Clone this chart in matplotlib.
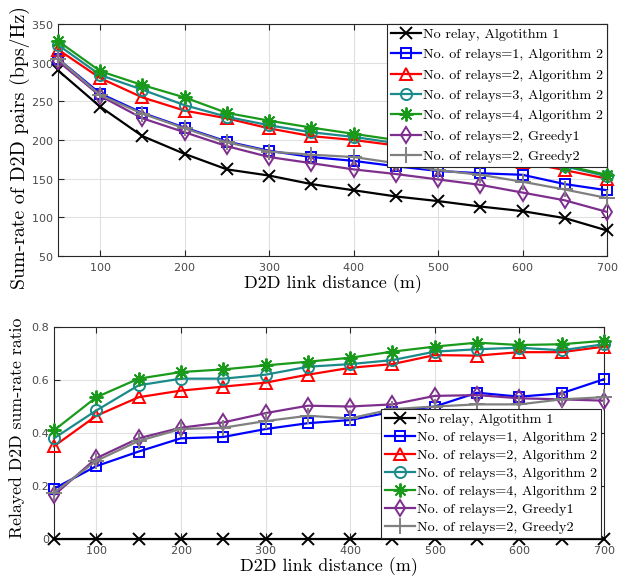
import numpy as np
import matplotlib
matplotlib.use('Agg')
import matplotlib.pyplot as plt

# D2D link distance (m)
dist = [50, 100, 150, 200, 250, 300, 350, 400, 450, 500, 550, 600, 650, 700]

labels = ['No relay, Algotithm 1',
          'No. of relays=1, Algorithm 2',
          'No. of relays=2, Algorithm 2',
          'No. of relays=3, Algorithm 2',
          'No. of relays=4, Algorithm 2',
          'No. of relays=2, Greedy1',
          'No. of relays=2, Greedy2']

# sum-rate (bps/Hz)
rate_norelay = [290, 243, 205, 182, 162, 154, 143, 135, 127, 121, 114, 108, 99, 83]
rate_r1 = [305, 260, 235, 216, 198, 186, 178, 173, 166, 160, 157, 155, 143, 135]
rate_r2 = [317, 280, 255, 238, 228, 215, 205, 200, 193, 185, 178, 172, 161, 150]
rate_r3 = [323, 284, 265, 245, 230, 219, 210, 204, 196, 188, 181, 175, 166, 153]
rate_r4 = [328, 289, 271, 255, 235, 225, 216, 208, 200, 192, 185, 178, 167, 155]
rate_g1 = [302, 257, 228, 210, 192, 178, 170, 162, 156, 149, 142, 132, 122, 107]
rate_g2 = [305, 258, 234, 215, 197, 185, 181, 178, 170, 161, 155, 146, 136, 125]

# relayed D2D sum-rate ratio
ratio_norelay = [0] * 14
ratio_r1 = [0.19, 0.275, 0.33, 0.38, 0.385, 0.415, 0.437, 0.449, 0.48, 0.50, 0.552, 0.537, 0.55, 0.603]
ratio_r2 = [0.35, 0.465, 0.535, 0.56, 0.575, 0.59, 0.62, 0.646, 0.66, 0.694, 0.692, 0.705, 0.705, 0.726]
ratio_r3 = [0.38, 0.485, 0.58, 0.605, 0.605, 0.62, 0.65, 0.66, 0.675, 0.707, 0.716, 0.722, 0.712, 0.735]
ratio_r4 = [0.41, 0.535, 0.605, 0.63, 0.64, 0.655, 0.669, 0.684, 0.707, 0.726, 0.741, 0.732, 0.735, 0.748]
ratio_g1 = [0.165, 0.305, 0.38, 0.42, 0.44, 0.475, 0.503, 0.50, 0.508, 0.54, 0.543, 0.531, 0.527, 0.522]
ratio_g2 = [0.175, 0.295, 0.37, 0.415, 0.42, 0.445, 0.465, 0.455, 0.49, 0.50, 0.508, 0.508, 0.527, 0.535]

colors = ['black', '#0000ff', '#ff0000', '#1a8a8a', '#1a9a1a', '#7e2f8e', '#808080']
markers = ['x', 's', '^', 'o', (8, 2, 0), 'd', '+']
msizes = [9, 7, 9, 8, 10, 8, 11]

serif = 'cmr10'
plt.rcParams['axes.formatter.use_mathtext'] = True

fig = plt.figure(figsize=(6.24, 5.8), dpi=100)
ax1 = fig.add_axes([58/624, 1-256/580, 549/624, 232/580])
ax2 = fig.add_axes([54/624, 1-539/580, 550/624, 212/580])

def draw(ax, series, loc, anchor, lspace):
    for i, y in enumerate(series):
        filled = markers[i] in ('x', '+', (8, 2, 0))
        ax.plot(dist, y, color=colors[i], marker=markers[i], markersize=msizes[i],
                markerfacecolor=colors[i] if filled else 'none',
                markeredgewidth=1.4, lw=1.6, label=labels[i], clip_on=False, zorder=3)
    ax.set_xlim(50, 700)
    ax.set_xticks([100, 200, 300, 400, 500, 600, 700])
    ax.grid(True, color='#e0e0e0', lw=0.8)
    ax.set_axisbelow(True)
    ax.tick_params(direction='in', top=True, right=True, labelsize=8, colors='#262626',
                   labelcolor='#4a4a4a', length=4)
    for s in ax.spines.values():
        s.set_color('#262626')
        s.set_linewidth(0.8)
    ax.set_xlabel('D2D link distance (m)', family=serif, fontsize=13, labelpad=1)
    leg = ax.legend(loc=loc, bbox_to_anchor=anchor, prop={'family': serif, 'size': 10.2},
                    handlelength=2.1, handletextpad=0.1, labelspacing=lspace,
                    borderpad=0.3, borderaxespad=0, fancybox=False, framealpha=1,
                    edgecolor='#262626')
    leg.get_frame().set_linewidth(0.8)
    leg.set_zorder(5)

draw(ax1, [rate_norelay, rate_r1, rate_r2, rate_r3, rate_r4, rate_g1, rate_g2],
     'upper right', (1, 1), 0.52)
ax1.set_ylim(50, 350)
ax1.set_yticks(range(50, 351, 50))
ax1.set_ylabel('Sum-rate of D2D pairs (bps/Hz)', family=serif, fontsize=14.3)
ax1.yaxis.set_label_coords(-0.051, 0.466)

draw(ax2, [ratio_norelay, ratio_r1, ratio_r2, ratio_r3, ratio_r4, ratio_g1, ratio_g2],
     'lower right', (0.9945, 0.003), 0.36)
ax2.set_ylim(0, 0.8)
ax2.set_yticks([0, 0.2, 0.4, 0.6, 0.8])
ax2.set_yticklabels(['0', '0.2', '0.4', '0.6', '0.8'])
ax2.set_ylabel('Relayed D2D sum-rate ratio', family=serif, fontsize=12.8)
ax2.yaxis.set_label_coords(-0.053, 0.524)

fig.savefig('out.png', dpi=100)
